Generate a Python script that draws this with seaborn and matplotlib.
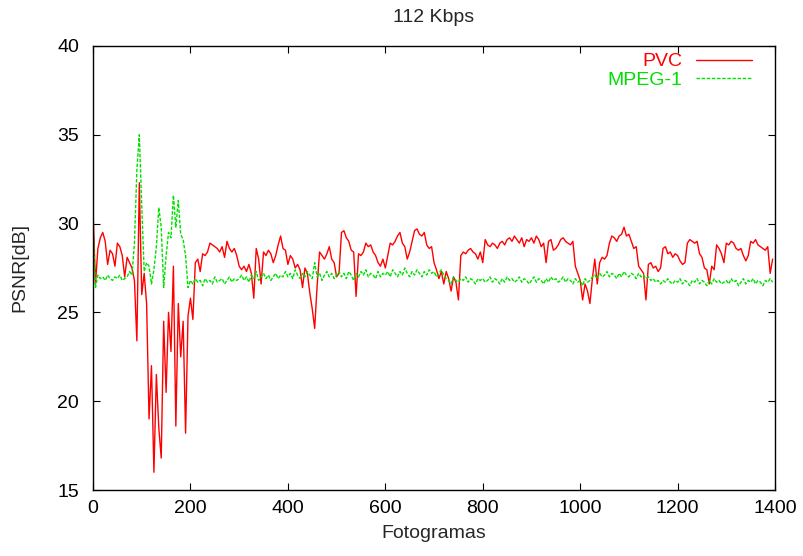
import numpy as np
import pandas as pd
import matplotlib
matplotlib.use("Agg")
import matplotlib.pyplot as plt
import seaborn as sns

frames = list(range(0, 1400, 5))

pvc = [
    30.8, 26.6, 28.6, 29.2, 29.5, 29.0, 27.7, 28.5, 28.3, 27.6, 28.9, 28.7, 28.2, 27.0, 28.1, 27.8, 27.5, 26.8, 23.4, 32.3,
    26.0, 27.2, 25.5, 19.0, 22.0, 16.0, 21.5, 18.5, 16.8, 24.5, 20.5, 25.0, 22.8, 27.6, 18.6, 25.5, 22.5, 24.5, 18.2, 24.8,
    25.8, 24.6, 27.8, 28.0, 27.3, 28.3, 28.2, 28.4, 28.9, 28.8, 28.7, 28.6, 28.4, 28.7, 28.1, 29.0, 28.6, 28.4, 28.6, 28.2,
    27.6, 27.4, 27.6, 27.3, 27.7, 27.2, 25.8, 28.6, 28.0, 26.6, 28.4, 28.2, 28.5, 28.3, 27.8, 28.2, 28.8, 29.3, 28.6, 28.5,
    27.7, 28.2, 28.0, 27.5, 27.7, 27.4, 26.4, 27.5, 27.2, 26.1, 25.2, 24.1, 26.5, 28.4, 28.2, 28.0, 28.3, 28.7, 28.0, 27.8,
    27.0, 27.2, 29.5, 29.6, 29.2, 29.0, 28.5, 28.4, 25.9, 28.3, 28.2, 28.4, 28.9, 28.7, 28.8, 28.4, 28.2, 27.8, 27.6, 28.0,
    27.5, 28.2, 28.9, 28.8, 29.0, 29.3, 29.5, 28.9, 28.7, 28.0, 28.4, 29.0, 29.6, 29.7, 29.4, 29.3, 29.5, 28.8, 28.6, 28.7,
    27.8, 27.4, 26.9, 27.3, 26.6, 27.3, 26.9, 26.2, 27.0, 26.7, 25.7, 28.2, 28.4, 28.3, 28.5, 28.6, 28.4, 28.3, 28.0, 28.4,
    27.8, 29.1, 28.8, 28.7, 28.9, 28.8, 28.6, 28.9, 29.0, 28.8, 29.1, 29.2, 29.0, 29.3, 29.1, 28.9, 29.2, 28.7, 29.1, 29.0,
    29.2, 28.9, 29.3, 29.1, 28.7, 28.9, 27.8, 29.0, 29.1, 28.5, 28.6, 28.8, 29.1, 29.2, 29.0, 28.9, 28.8, 29.0, 27.6, 27.2,
    26.8, 25.7, 26.6, 26.2, 25.5, 26.9, 28.0, 26.6, 27.8, 28.1, 28.0, 28.2, 28.9, 29.3, 29.2, 29.0, 29.3, 29.4, 29.8, 29.3,
    29.4, 29.0, 28.6, 28.7, 27.6, 27.4, 27.2, 25.7, 27.7, 27.8, 27.5, 27.6, 27.3, 27.5, 28.6, 28.7, 28.3, 28.4, 28.1, 28.3,
    28.2, 27.9, 27.7, 27.8, 28.9, 29.1, 29.0, 28.9, 29.0, 28.3, 28.1, 27.5, 27.4, 26.6, 27.6, 27.4, 28.8, 28.6, 28.3, 27.8,
    28.9, 28.8, 29.0, 28.9, 28.6, 28.5, 28.6, 28.2, 27.9, 28.2, 29.0, 28.9, 29.1, 28.8, 28.7, 28.6, 28.5, 28.7, 27.2, 28.0,
]

mpeg1 = [
    29.9, 26.4, 27.1, 26.9, 27.0, 26.8, 27.1, 26.9, 26.8, 27.0, 26.9, 27.1, 26.8, 26.9, 27.0, 27.3, 27.1, 28.9, 33.0, 35.0,
    31.0, 27.3, 27.8, 27.6, 26.6, 27.4, 28.7, 30.9, 29.8, 26.4, 28.2, 29.5, 29.2, 31.6, 29.8, 31.3, 29.4, 29.1, 28.2, 26.4,
    26.8, 26.6, 26.9, 26.7, 26.8, 26.5, 26.9, 26.7, 26.8, 26.6, 27.0, 26.7, 26.8, 26.9, 26.6, 26.8, 27.0, 26.7, 26.9, 26.8,
    26.9, 27.1, 26.8, 27.0, 26.7, 27.1, 26.9, 27.3, 26.8, 27.0, 27.2, 26.9, 27.1, 26.8, 27.0, 27.2, 26.9, 27.1, 27.0, 27.3,
    27.0, 27.2, 26.9, 27.4, 27.1, 26.9, 27.2, 27.0, 27.3, 27.1, 26.9, 27.8, 27.0, 27.2, 26.8, 27.1, 27.3, 27.0, 27.2, 26.9,
    27.1, 27.3, 27.0, 27.2, 26.9, 27.3, 27.1, 26.8, 27.2, 27.0, 27.3, 27.1, 27.4, 27.0, 27.2, 27.1, 26.9, 27.3, 27.0, 27.2,
    27.1, 27.3, 27.0, 27.4, 27.2, 27.0, 27.3, 27.1, 27.5, 27.2, 27.0, 27.3, 27.1, 27.4, 27.2, 27.0, 27.3, 27.1, 27.4, 27.2,
    27.3, 27.0, 27.2, 27.4, 27.1, 26.9, 26.8, 26.6, 27.0, 26.8, 26.7, 26.9, 26.8, 27.0, 26.7, 26.9, 26.8, 26.6, 26.9, 26.8,
    26.9, 26.7, 26.8, 27.0, 26.7, 26.9, 26.8, 26.6, 26.9, 26.7, 27.0, 26.8, 26.9, 26.7, 26.8, 27.0, 26.7, 26.9, 26.8, 26.6,
    26.8, 27.0, 26.7, 26.9, 26.8, 26.6, 26.9, 26.7, 27.0, 26.8, 26.9, 26.7, 26.8, 27.0, 26.7, 26.9, 26.8, 26.6, 26.9, 26.7,
    26.8, 26.5, 26.9, 26.7, 26.8, 27.0, 27.1, 26.9, 27.2, 27.0, 27.1, 27.3, 27.0, 27.2, 27.1, 26.9, 27.2, 27.0, 27.3, 27.1,
    27.0, 27.2, 27.1, 26.9, 27.2, 27.0, 27.1, 26.9, 27.0, 26.8, 26.9, 26.7, 26.8, 26.6, 26.8, 26.7, 26.9, 26.7, 26.6, 26.8,
    26.7, 26.9, 26.6, 26.8, 26.7, 26.5, 26.8, 26.7, 26.9, 26.6, 26.8, 26.7, 26.5, 26.8, 26.6, 26.9, 26.7, 26.8, 26.6, 26.7,
    26.8, 26.6, 26.9, 26.7, 26.8, 26.5, 26.7, 26.9, 26.6, 26.8, 26.7, 26.9, 26.6, 26.8, 26.7, 26.5, 26.8, 26.7, 26.9, 26.7,
]

codecs = ["PVC", "MPEG-1"]

df = pd.DataFrame({
    "frame": frames * 2,
    "psnr": pvc + mpeg1,
    "codec": ["PVC"] * len(frames) + ["MPEG-1"] * len(frames),
})

sns.set_style("ticks")
plt.rcParams["font.family"] = ["Liberation Sans", "DejaVu Sans"]

fig = plt.figure(figsize=(8.04, 5.56), dpi=100)
ax = fig.add_axes([0.1157, 0.1187, 0.8483, 0.7986])

sns.lineplot(data=df, x="frame", y="psnr", hue="codec", style="codec",
             hue_order=codecs, style_order=codecs,
             palette={"PVC": "#ff0000", "MPEG-1": "#00e000"},
             dashes={"PVC": "", "MPEG-1": (2.5, 1.2)},
             linewidth=1.0, ax=ax)

ax.set_xlim(0, 1400)
ax.set_ylim(15, 40)
ax.set_xticks(range(0, 1401, 200))
ax.set_yticks(range(15, 41, 5))
ax.tick_params(direction="in", length=5, width=0.8, labelsize=14,
               top=True, right=True, colors="black")
ax.tick_params(axis="x", pad=7)
ax.tick_params(axis="y", pad=10)
for s in ax.spines.values():
    s.set_linewidth(1.0)
    s.set_color("black")

ax.set_xlabel("Fotogramas", fontsize=14, labelpad=6)
ax.set_ylabel("PSNR[dB]", fontsize=14, labelpad=21)
ax.set_title("112 Kbps", fontsize=14, pad=17)

leg = ax.legend(loc="upper right", bbox_to_anchor=(0.992, 1.024), frameon=False,
                markerfirst=False, labelcolor="linecolor", fontsize=14,
                handlelength=2.9, handletextpad=0.67, labelspacing=0.05)
for t in leg.get_texts():
    t.set_ha("right")

fig.savefig("out.png", dpi=100)
plt.close()
